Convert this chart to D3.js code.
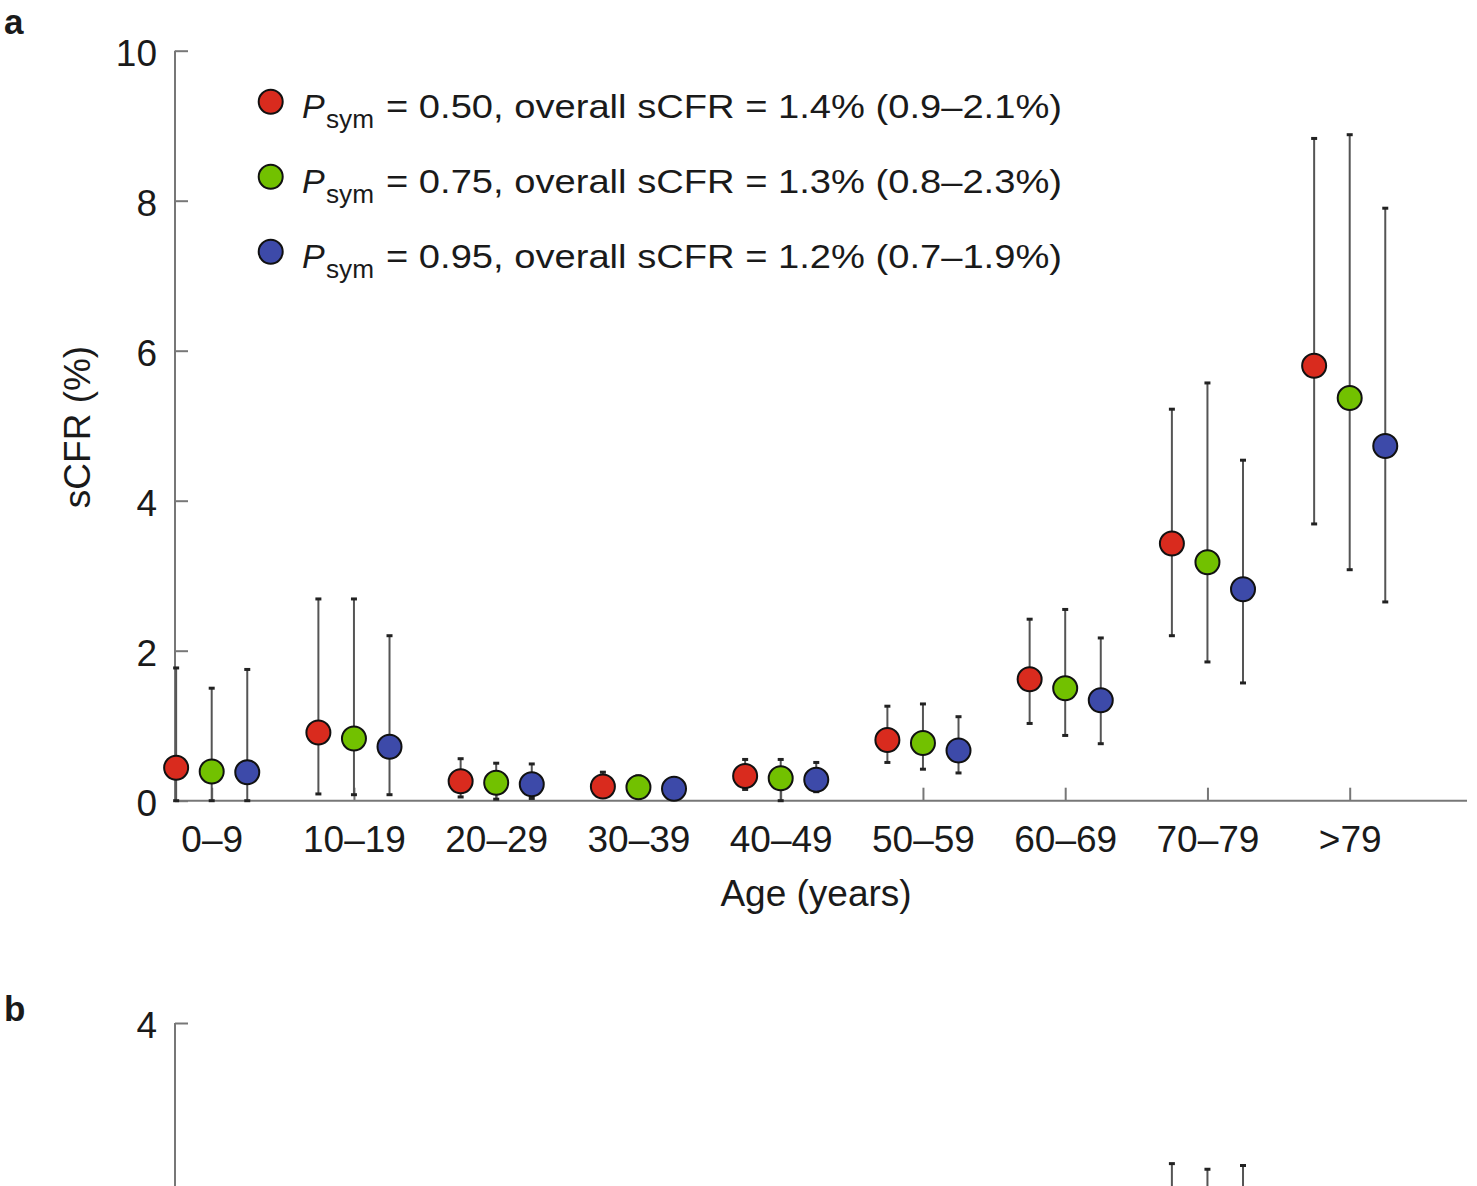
<!DOCTYPE html>
<html>
<head>
<meta charset="utf-8">
<script src="https://cdn.jsdelivr.net/npm/d3@7"></script>
<style>
  body { margin: 0; background: #fff; }
  text { font-family: "Liberation Sans", Arial, Helvetica, sans-serif; fill: #1a1a1a; }
</style>
</head>
<body>
<div id="chart"></div>
<script>
// data
var ageGroups = ["0–9", "10–19", "20–29", "30–39", "40–49", "50–59", "60–69", "70–79", ">79"];
var seriesNames = ["0.50", "0.75", "0.95"];
var overallText = [
    "overall sCFR = 1.4% (0.9–2.1%)",
    "overall sCFR = 1.3% (0.8–2.3%)",
    "overall sCFR = 1.2% (0.7–1.9%)"
];
var seriesColors = ["#d92b1e", "#72c100", "#3d4aa9"];

// panel a: point estimate, lower and upper bound per series
var mid050 = [0.44, 0.91, 0.26, 0.19, 0.33, 0.81, 1.62, 3.43, 5.80];
var low050 = [0.00, 0.09, 0.05, 0.06, 0.15, 0.51, 1.03, 2.20, 3.69];
var up050  = [1.77, 2.69, 0.56, 0.38, 0.55, 1.26, 2.42, 5.22, 8.83];

var mid075 = [0.39, 0.83, 0.24, 0.18, 0.30, 0.77, 1.50, 3.18, 5.37];
var low075 = [0.00, 0.08, 0.02, 0.04, 0.00, 0.42, 0.87, 1.85, 3.08];
var up075  = [1.50, 2.69, 0.50, 0.33, 0.55, 1.29, 2.55, 5.57, 8.88];

var mid095 = [0.38, 0.72, 0.22, 0.16, 0.28, 0.67, 1.34, 2.82, 4.73];
var low095 = [0.00, 0.08, 0.03, 0.04, 0.12, 0.37, 0.76, 1.57, 2.65];
var up095  = [1.75, 2.20, 0.49, 0.30, 0.51, 1.12, 2.17, 4.54, 7.90];

var yTicksA = [0, 2, 4, 6, 8, 10];

// panel b: only the tops of the 70–79 bars show in the picture
var bGroup = "70–79";
var bUpper = [3.25, 3.22, 3.24];
var bMid = [1.6, 1.5, 1.3];
var yTicksB = [4];

var svgWidth = 1477;
var svgHeight = 1186;

var svg = d3.select("#chart")
    .append("svg")
    .attr("width", svgWidth)
    .attr("height", svgHeight);

var xScale = d3.scalePoint()
    .domain(ageGroups)
    .range([211.7, 1349.7]);

var offset = xScale.step() * 0.25;
var axisLeftX = 175;
var axisRightX = 1467;

var yA = d3.scaleLinear().domain([0, 10]).range([800.7, 50.7]);
var yB = d3.scaleLinear().domain([0, 4]).range([1773, 1023]);

var seriesA = [
    { mid: mid050, low: low050, up: up050 },
    { mid: mid075, low: low075, up: up075 },
    { mid: mid095, low: low095, up: up095 }
];

// panel labels
svg.append("text").attr("x", 4).attr("y", 34)
    .attr("font-size", "35px").attr("font-weight", "bold").text("a");
svg.append("text").attr("x", 4).attr("y", 1021)
    .attr("font-size", "35px").attr("font-weight", "bold").text("b");

// panel a axes
var yAxisA = d3.axisRight(yA).tickValues(yTicksA).tickSize(13).tickFormat(d3.format("d"));
var gyA = svg.append("g")
    .attr("class", "y-axis")
    .attr("transform", `translate(${axisLeftX}, 0)`)
    .call(yAxisA);
gyA.select(".domain").remove();
gyA.selectAll("line").attr("stroke", "#777").attr("stroke-width", 2);
gyA.selectAll("text")
    .attr("x", -18).attr("dy", "0.4em")
    .attr("text-anchor", "end")
    .attr("font-size", "37px")
    .attr("fill", "#1a1a1a");
gyA.append("line")
    .attr("x1", 0).attr("x2", 0)
    .attr("y1", yA(10)).attr("y2", yA(0))
    .attr("stroke", "#777").attr("stroke-width", 2);

var xAxisA = d3.axisTop(xScale).tickSize(13).tickSizeOuter(0);
var gxA = svg.append("g")
    .attr("class", "x-axis")
    .attr("transform", `translate(0, ${yA(0)})`)
    .call(xAxisA);
gxA.select(".domain").remove();
gxA.selectAll("line").attr("stroke", "#777").attr("stroke-width", 2);
gxA.selectAll("text")
    .attr("y", 51).attr("dy", 0)
    .attr("font-size", "37px")
    .attr("fill", "#1a1a1a");
gxA.append("line")
    .attr("x1", axisLeftX).attr("x2", axisRightX)
    .attr("y1", 0).attr("y2", 0)
    .attr("stroke", "#777").attr("stroke-width", 2);

svg.append("text")
    .attr("x", 816).attr("y", 906)
    .attr("text-anchor", "middle")
    .attr("font-size", "37px")
    .text("Age (years)");

svg.append("text")
    .attr("transform", `translate(90, 427) rotate(-90)`)
    .attr("text-anchor", "middle")
    .attr("font-size", "37px")
    .text("sCFR (%)");

// panel a error bars and points
seriesA.forEach(function (s, i) {
    var dx = (i - 1) * offset;
    var g = svg.append("g").attr("class", "series-" + i);
    var rows = ageGroups.map(function (a, j) {
        return { group: a, mid: s.mid[j], low: s.low[j], up: s.up[j] };
    });

    g.selectAll(".bar")
        .data(rows)
        .enter()
        .append("line")
        .attr("x1", d => xScale(d.group) + dx)
        .attr("x2", d => xScale(d.group) + dx)
        .attr("y1", d => yA(d.low))
        .attr("y2", d => yA(d.up))
        .attr("stroke", "#555")
        .attr("stroke-width", 2);

    g.selectAll(".capTop")
        .data(rows)
        .enter()
        .append("line")
        .attr("x1", d => xScale(d.group) + dx - 3)
        .attr("x2", d => xScale(d.group) + dx + 3)
        .attr("y1", d => yA(d.up))
        .attr("y2", d => yA(d.up))
        .attr("stroke", "#222")
        .attr("stroke-width", 3);

    g.selectAll(".capLow")
        .data(rows)
        .enter()
        .append("line")
        .attr("x1", d => xScale(d.group) + dx - 3)
        .attr("x2", d => xScale(d.group) + dx + 3)
        .attr("y1", d => yA(d.low))
        .attr("y2", d => yA(d.low))
        .attr("stroke", "#222")
        .attr("stroke-width", 3);

    g.selectAll("circle")
        .data(rows)
        .enter()
        .append("circle")
        .attr("cx", d => xScale(d.group) + dx)
        .attr("cy", d => yA(d.mid))
        .attr("r", 12)
        .attr("fill", seriesColors[i])
        .attr("stroke", "#111")
        .attr("stroke-width", 2);
});

// legend
var legend = svg.append("g").attr("class", "legend");
seriesNames.forEach(function (name, i) {
    var ly = 101.7 + i * 75;
    legend.append("circle")
        .attr("cx", 270.7).attr("cy", ly)
        .attr("r", 12)
        .attr("fill", seriesColors[i])
        .attr("stroke", "#111")
        .attr("stroke-width", 2);
    var t = legend.append("text")
        .attr("y", ly + 16)
        .attr("font-size", "34px");
    t.append("tspan").attr("x", 302).attr("font-style", "italic").text("P");
    t.append("tspan").attr("x", 326).attr("font-size", "25px").attr("dy", 10)
        .attr("textLength", 48).attr("lengthAdjust", "spacingAndGlyphs").text("sym");
    t.append("tspan").attr("x", 386).attr("dy", -10)
        .attr("textLength", 676).attr("lengthAdjust", "spacingAndGlyphs")
        .text("= " + name + ", " + overallText[i]);
});

// panel b (only its top is in view)
var gyB = svg.append("g")
    .attr("transform", `translate(${axisLeftX}, 0)`)
    .call(d3.axisRight(yB).tickValues(yTicksB).tickSize(13).tickFormat(d3.format("d")));
gyB.select(".domain").remove();
gyB.selectAll("line").attr("stroke", "#777").attr("stroke-width", 2);
gyB.selectAll("text")
    .attr("x", -18).attr("dy", "0.4em")
    .attr("text-anchor", "end")
    .attr("font-size", "37px")
    .attr("fill", "#1a1a1a");
gyB.append("line")
    .attr("x1", 0).attr("x2", 0)
    .attr("y1", yB(4)).attr("y2", yB(0))
    .attr("stroke", "#777").attr("stroke-width", 2);

var bRows = bUpper.map(function (u, i) {
    return { up: u, mid: bMid[i], dx: (i - 1) * offset };
});
svg.append("g").selectAll("line")
    .data(bRows)
    .enter()
    .append("line")
    .attr("x1", d => xScale(bGroup) + d.dx)
    .attr("x2", d => xScale(bGroup) + d.dx)
    .attr("y1", d => yB(d.up))
    .attr("y2", d => yB(d.mid))
    .attr("stroke", "#555")
    .attr("stroke-width", 2);
svg.append("g").selectAll("line")
    .data(bRows)
    .enter()
    .append("line")
    .attr("x1", d => xScale(bGroup) + d.dx - 3)
    .attr("x2", d => xScale(bGroup) + d.dx + 3)
    .attr("y1", d => yB(d.up))
    .attr("y2", d => yB(d.up))
    .attr("stroke", "#222")
    .attr("stroke-width", 3);
</script>
</body>
</html>
